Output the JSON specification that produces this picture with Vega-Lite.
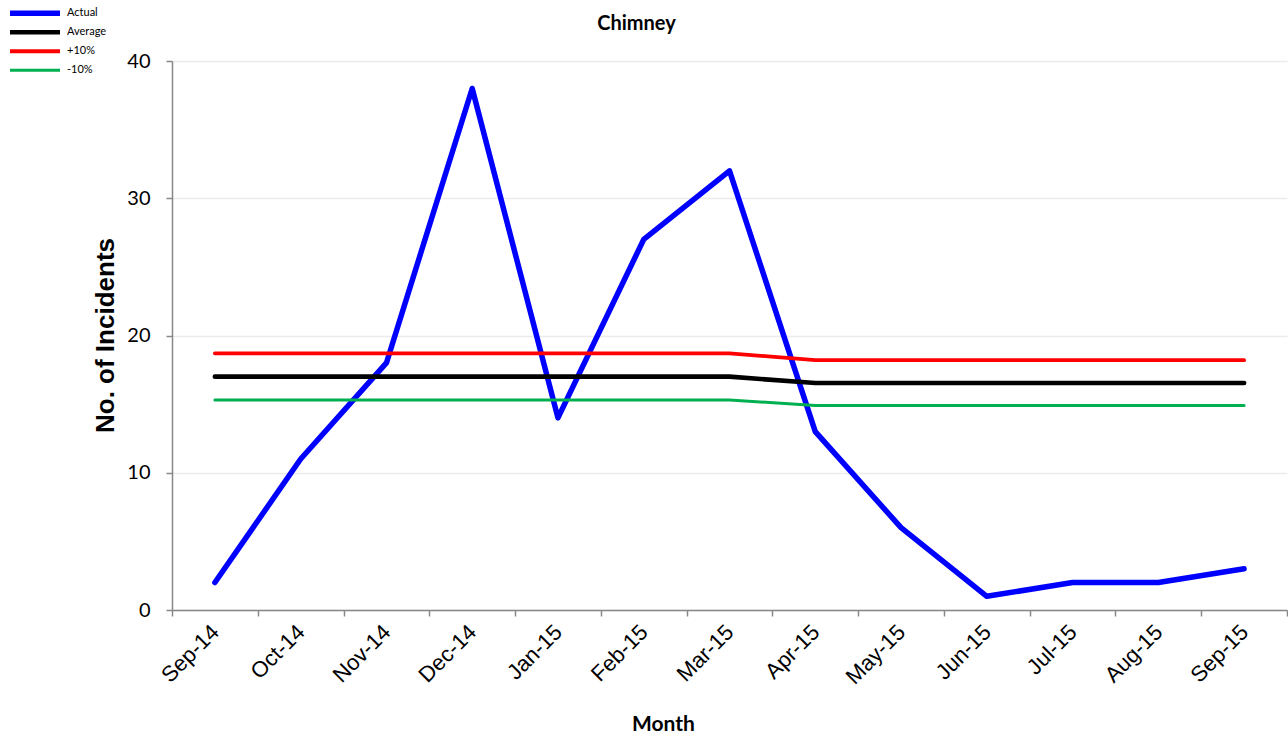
{
  "$schema": "https://vega.github.io/schema/vega-lite/v6.json",
  "width": 1115,
  "height": 549,
  "autosize": {"type": "none"},
  "padding": {"left": 172, "top": 61, "right": 1, "bottom": 125},
  "background": "white",
  "title": {"text": "Chimney", "font": "Lato", "fontSize": 20, "fontWeight": "bold", "color": "#000000", "anchor": "middle", "offset": 0, "dy": 30, "dx": -93, "frame": "group"},
  "data": {
    "values": [
      {"month": "Sep-14", "series": "Actual", "value": 2},
      {"month": "Oct-14", "series": "Actual", "value": 11},
      {"month": "Nov-14", "series": "Actual", "value": 18},
      {"month": "Dec-14", "series": "Actual", "value": 38},
      {"month": "Jan-15", "series": "Actual", "value": 14},
      {"month": "Feb-15", "series": "Actual", "value": 27},
      {"month": "Mar-15", "series": "Actual", "value": 32},
      {"month": "Apr-15", "series": "Actual", "value": 13},
      {"month": "May-15", "series": "Actual", "value": 6},
      {"month": "Jun-15", "series": "Actual", "value": 1},
      {"month": "Jul-15", "series": "Actual", "value": 2},
      {"month": "Aug-15", "series": "Actual", "value": 2},
      {"month": "Sep-15", "series": "Actual", "value": 3},
      {"month": "Sep-14", "series": "Average", "value": 17},
      {"month": "Oct-14", "series": "Average", "value": 17},
      {"month": "Nov-14", "series": "Average", "value": 17},
      {"month": "Dec-14", "series": "Average", "value": 17},
      {"month": "Jan-15", "series": "Average", "value": 17},
      {"month": "Feb-15", "series": "Average", "value": 17},
      {"month": "Mar-15", "series": "Average", "value": 17},
      {"month": "Apr-15", "series": "Average", "value": 16.54},
      {"month": "May-15", "series": "Average", "value": 16.54},
      {"month": "Jun-15", "series": "Average", "value": 16.54},
      {"month": "Jul-15", "series": "Average", "value": 16.54},
      {"month": "Aug-15", "series": "Average", "value": 16.54},
      {"month": "Sep-15", "series": "Average", "value": 16.54},
      {"month": "Sep-14", "series": "+10%", "value": 18.7},
      {"month": "Oct-14", "series": "+10%", "value": 18.7},
      {"month": "Nov-14", "series": "+10%", "value": 18.7},
      {"month": "Dec-14", "series": "+10%", "value": 18.7},
      {"month": "Jan-15", "series": "+10%", "value": 18.7},
      {"month": "Feb-15", "series": "+10%", "value": 18.7},
      {"month": "Mar-15", "series": "+10%", "value": 18.7},
      {"month": "Apr-15", "series": "+10%", "value": 18.2},
      {"month": "May-15", "series": "+10%", "value": 18.2},
      {"month": "Jun-15", "series": "+10%", "value": 18.2},
      {"month": "Jul-15", "series": "+10%", "value": 18.2},
      {"month": "Aug-15", "series": "+10%", "value": 18.2},
      {"month": "Sep-15", "series": "+10%", "value": 18.2},
      {"month": "Sep-14", "series": "-10%", "value": 15.3},
      {"month": "Oct-14", "series": "-10%", "value": 15.3},
      {"month": "Nov-14", "series": "-10%", "value": 15.3},
      {"month": "Dec-14", "series": "-10%", "value": 15.3},
      {"month": "Jan-15", "series": "-10%", "value": 15.3},
      {"month": "Feb-15", "series": "-10%", "value": 15.3},
      {"month": "Mar-15", "series": "-10%", "value": 15.3},
      {"month": "Apr-15", "series": "-10%", "value": 14.9},
      {"month": "May-15", "series": "-10%", "value": 14.9},
      {"month": "Jun-15", "series": "-10%", "value": 14.9},
      {"month": "Jul-15", "series": "-10%", "value": 14.9},
      {"month": "Aug-15", "series": "-10%", "value": 14.9},
      {"month": "Sep-15", "series": "-10%", "value": 14.9}
    ]
  },
  "mark": {"type": "line", "strokeCap": "round", "strokeJoin": "round"},
  "encoding": {
    "x": {
      "field": "month", "type": "ordinal",
      "sort": ["Sep-14","Oct-14","Nov-14","Dec-14","Jan-15","Feb-15","Mar-15","Apr-15","May-15","Jun-15","Jul-15","Aug-15","Sep-15"],
      "scale": {"type": "band", "paddingInner": 0, "paddingOuter": 0},
      "axis": {
        "title": "Month", "titleFont": "Lato", "titleFontSize": 21, "titleFontWeight": "bold", "titleColor": "#000000",
        "titleX": 491, "titleY": 114, "titleBaseline": "middle", "titleAlign": "center",
        "labelAngle": -45, "labelFont": "Liberation Sans", "labelFontSize": 22, "labelColor": "#000000", "labelPadding": 5, "labelOffset": -7,
        "tickBand": "extent", "ticks": true, "tickSize": 6, "tickColor": "#888888", "domainColor": "#888888", "domainWidth": 1.5, "tickWidth": 1.5,
        "grid": false
      }
    },
    "y": {
      "field": "value", "type": "quantitative",
      "scale": {"domain": [0, 40], "nice": false},
      "axis": {
        "title": "No. of Incidents", "titleFont": "Liberation Sans", "titleFontSize": 26, "titleFontWeight": "bold", "titleColor": "#000000",
        "titleX": -67, "titleY": 274, "titleBaseline": "middle", "titleAlign": "center", "titleAngle": -90,
        "values": [0, 10, 20, 30, 40], "labelFont": "Lato", "labelFontSize": 20, "labelColor": "#000000", "labelPadding": 16,
        "tickSize": 6, "tickColor": "#888888", "domainColor": "#888888", "domainWidth": 1.5, "tickWidth": 1.5,
        "grid": true, "gridColor": "#ebebeb", "gridWidth": 1.5
      }
    },
    "color": {
      "field": "series", "type": "nominal",
      "scale": {"domain": ["Actual", "Average", "+10%", "-10%"], "range": ["#0000FF", "#000000", "#FF0000", "#00B050"]},
      "legend": {
        "title": null, "orient": "none", "legendX": -165, "legendY": -57,
        "symbolType": "stroke", "symbolSize": 2500, "symbolStrokeWidth": 3.5, "clipHeight": 18.5,
        "labelFont": "Lato", "labelFontSize": 11, "labelColor": "#000000", "rowPadding": 0, "labelOffset": 4
      }
    },
    "strokeWidth": {
      "field": "series", "type": "nominal",
      "scale": {"domain": ["Actual", "Average", "+10%", "-10%"], "range": [5.5, 3, 3, 3]},
      "legend": null
    }
  },
  "config": {"view": {"stroke": null}}
}
